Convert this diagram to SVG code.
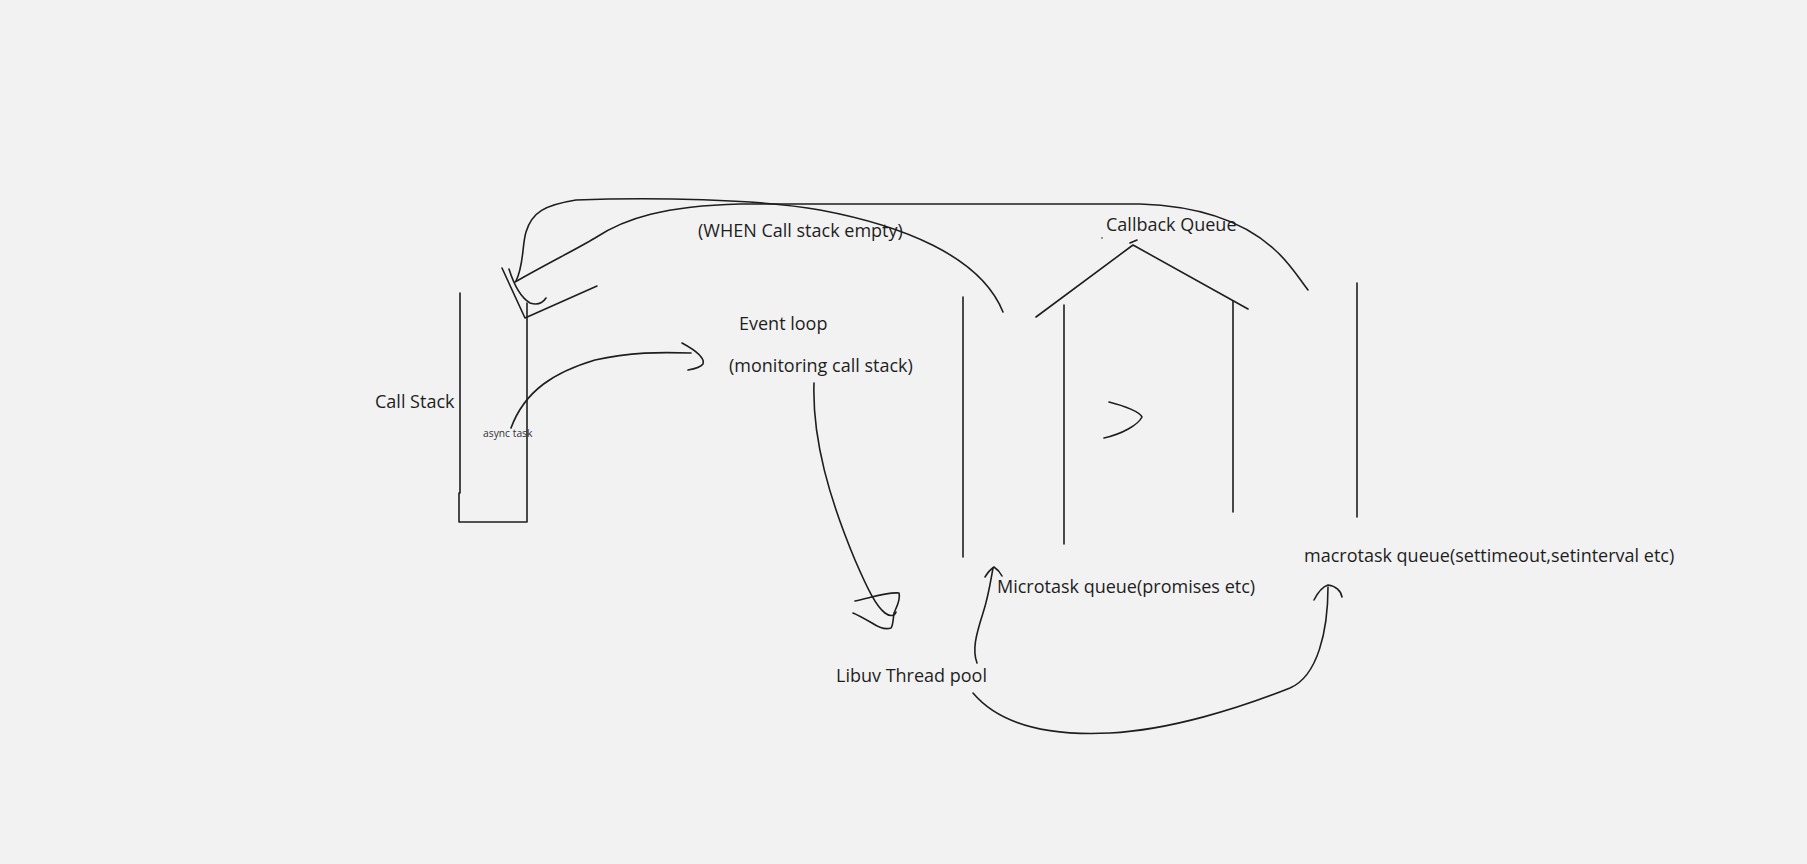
<svg xmlns="http://www.w3.org/2000/svg" width="1807" height="864" viewBox="0 0 1807 864">
<style>
.s{fill:none;stroke:#1e1e1e;stroke-width:1.6;stroke-linecap:round;stroke-linejoin:round}
.t{font-family:"Open Sans","Noto Sans","Liberation Sans",sans-serif;font-size:18px;fill:#1e1e1e}
.sm{font-family:"Open Sans","Noto Sans","Liberation Sans",sans-serif;font-size:10.3px;fill:#333}
</style>
<rect width="1807" height="864" fill="#f2f2f2"/>
<g id="call-stack">
<path class="s" d="M460,293 L460,493 M459,493 L459,522 L527,522 L527,303"/>
<text class="t" x="375" y="408">Call Stack</text>
<text class="sm" x="483" y="437">async task</text>
</g>
<g id="event-loop">
<text class="t" x="739" y="330">Event loop</text>
<text class="t" x="729" y="372">(monitoring call stack)</text>
</g>
<g id="when-label">
<text class="t" x="698" y="237">(WHEN Call stack empty)</text>
</g>
<g id="callback-queue">
<text class="t" x="1106" y="231">Callback Queue</text>
<circle cx="1102" cy="238" r="0.8" fill="#1e1e1e"/>
<path class="s" d="M1036,317 L1133,245 L1248,309 M1130,243 L1137,240"/>
<path class="s" d="M1064,305 L1064,544 M1233,301 L1233,512"/>
<path class="s" d="M1109,402 C1125,406 1140,412 1142,417 C1138,425 1122,434 1104,438"/>
</g>
<g id="microtask-queue">
<path class="s" d="M963,297 L963,557"/>
<text class="t" x="997" y="593">Microtask queue(promises etc)</text>
</g>
<g id="macrotask-queue">
<path class="s" d="M1357,283 L1357,517"/>
<text class="t" x="1304" y="562">macrotask queue(settimeout,setinterval etc)</text>
</g>
<g id="libuv">
<text class="t" x="836" y="682">Libuv Thread pool</text>
</g>
<g id="connectors">
<path class="s" d="M502,268 L525,318 L597,286"/>
<path class="s" d="M509,269 C514,285 520,297 530,303 C536,305 542,304 546,298"/>
<path class="s" d="M516,281 C524,265 522,245 526,232 C532,212 545,205 576,200 C650,197 760,199 820,210 C900,225 980,255 1003,312"/>
<path class="s" d="M515,282 C550,262 575,250 595,238 C625,218 665,206 740,204 L1140,204 C1200,206 1245,222 1275,250 C1290,263 1300,280 1308,290"/>
<path class="s" d="M511,428 C525,390 555,372 595,360 C630,352 660,352 691,353"/>
<path class="s" d="M682,343 C695,350 705,358 703,364 C700,368 694,369 688,370"/>
<path class="s" d="M814,383 C812,440 830,500 855,560 C868,590 876,606 885,613 C890,617 895,616 896,612"/>
<path class="s" d="M855,601 C870,598 885,592 899,593 C901,600 896,608 894,613 C893,620 893,626 891,628 C885,630 878,627 872,623 C865,619 858,615 853,613"/>
<path class="s" d="M977,663 C972,650 976,635 983,613 C988,598 990,585 993,568"/>
<path class="s" d="M985,577 C988,572 991,569 994,567 C997,569 1000,572 1002,576"/>
<path class="s" d="M973,693 C1000,725 1050,736 1110,733 C1170,730 1240,708 1290,688 C1318,676 1328,630 1328,587"/>
<path class="s" d="M1314,600 C1318,592 1322,587 1328,585 C1336,586 1341,591 1342,597"/>
</g>
</svg>
